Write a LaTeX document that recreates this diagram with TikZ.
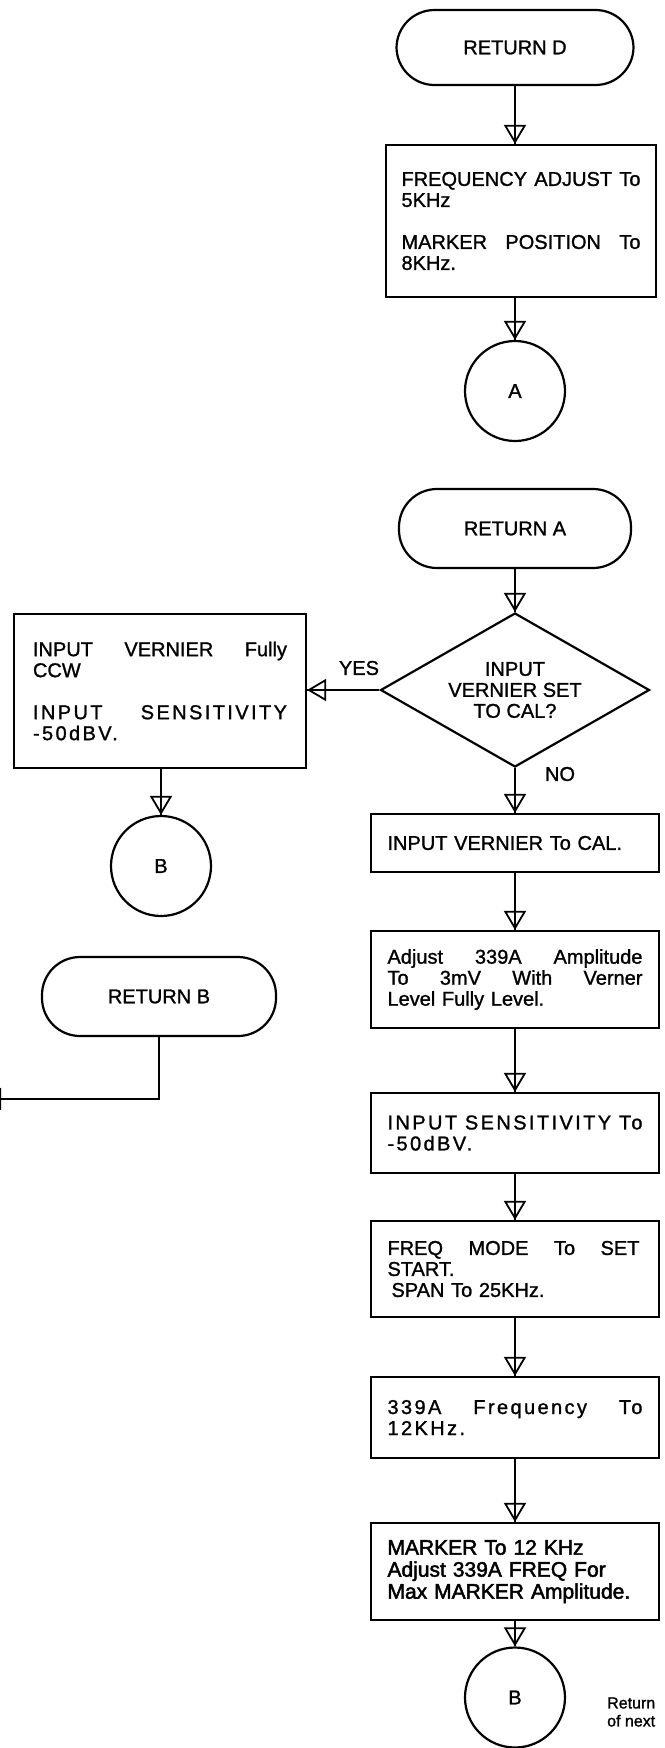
\documentclass[tikz,border=0pt]{standalone}
\usepackage{fontspec}
\setmainfont{Liberation Sans}[FakeBold=1.2]
\newfontfamily\medfont[FakeBold=2.2]{Liberation Sans}
\usetikzlibrary{shapes.geometric,arrows.meta}
% justified line: words separated by \hfill inside a box of given width
\newcommand\jl[2]{\makebox[#1][s]{#2}}
\newcommand\wide{\addfontfeature{LetterSpace=12}}
\tikzset{
  every node/.style={font=\fontsize{20}{21}\selectfont},
  term/.style={draw, line width=2.2pt, rectangle, rounded corners=38pt, inner sep=0pt},
  proc/.style={draw, line width=2.2pt, rectangle, align=left, inner ysep=0pt},
  conn/.style={draw, line width=2.2pt, circle, minimum size=100pt, inner sep=0pt},
  decide/.style={draw, line width=2.2pt, diamond, aspect=1.75, inner sep=0pt, align=center, minimum width=269pt, minimum height=154pt},
  flow/.style={line width=1.8pt, -{Triangle[open, length=19pt, width=22pt, line width=1.8pt]}, postaction={draw, -}},
  lbl/.style={inner sep=0pt},
}
\begin{document}
\begin{tikzpicture}[x=1pt,y=-1pt]
\fill[white] (0,0) rectangle (664,1748);
\useasboundingbox (0,0) rectangle (664,1748);

% right column, top
\node[term, minimum width=237pt, minimum height=75pt] (rd) at (515,47.5) {RETURN D};
\node[proc, text width=239pt, inner xsep=15.5pt, minimum height=152pt] (b1) at (521,221)
  {\jl{239pt}{FREQUENCY\hfill ADJUST\hfill To}\\5KHz\\[21pt]\jl{239pt}{MARKER\hfill POSITION\hfill To}\\8KHz.};
\node[conn] (a) at (515,391) {A};

\node[term, minimum width=232pt, minimum height=79pt] (ra) at (515,528.5) {RETURN A};
\node[decide] (d1) at (515,690) {INPUT\\VERNIER SET\\TO CAL?};
\node[lbl] (yes) at (359,668) {YES};
\node[lbl] (no) at (560,774) {NO};

% left column
\node[proc, text width=254pt, inner xsep=19pt, minimum height=154pt] (lb) at (160,691)
  {\jl{254pt}{INPUT\hfill VERNIER\hfill Fully}\\CCW\\[21pt]{\wide\jl{254pt}{INPUT\hfill SENSITIVITY}}\\{\wide -50dBV.}};
\node[conn] (bl) at (161,866) {B};
\node[term, minimum width=234pt, minimum height=79pt] (rb) at (159,996.5) {RETURN B};
\coordinate (rbout) at (-18,1099);

% right column, steps
\node[proc, text width=255pt, inner xsep=16.5pt, minimum height=58pt] (r1) at (515,843)
  {INPUT VERNIER To CAL.};
\node[proc, text width=255pt, inner xsep=16.5pt, minimum height=97pt] (r2) at (515,979.5)
  {\jl{255pt}{Adjust\hfill 339A\hfill Amplitude}\\\jl{255pt}{To\hfill 3mV\hfill With\hfill Verner}\\Level Fully Level.};
\node[proc, text width=255pt, inner xsep=16.5pt, minimum height=80pt] (r3) at (515,1133)
  {\wide\jl{255pt}{INPUT\hfill SENSITIVITY\hfill To}\\-50dBV.};
\node[proc, text width=255pt, inner xsep=16.5pt, minimum height=96pt] (r4) at (515,1269)
  {\jl{252pt}{FREQ\hfill MODE\hfill To\hfill SET}\\START.\\\hspace*{4pt}SPAN To 25KHz.};
\node[proc, text width=255pt, inner xsep=16.5pt, minimum height=81pt] (r5) at (515,1417.5)
  {\wide\jl{255pt}{339A\hfill Frequency\hfill To}\\12KHz.};
\node[proc, text width=255pt, inner xsep=16.5pt, minimum height=97pt, font=\medfont\fontsize{21}{22}\selectfont] (r6) at (515,1571.5)
  {MARKER To 12 KHz\\Adjust 339A FREQ For\\Max MARKER Amplitude.};
\node[conn] (bb) at (515,1697.5) {B};
\node[lbl, anchor=west, align=left, font=\fontsize{16}{18}\selectfont] (ret) at (607,1712) {Return\\of next};

% connectors
\draw[flow] (rd.south) -- (rd.south |- b1.north);
\draw[flow] (a.north |- b1.south) -- (a.north);
\draw[flow] (ra) -- (d1);
\draw[flow] (d1.west) -- (lb.east |- d1.west);
\draw[flow] (d1) -- (r1);
\draw[flow] (bl.north |- lb.south) -- (bl.north);
\draw[flow] (rb.south) |- (rbout);
\draw[flow] (r1) -- (r2);
\draw[flow] (r2) -- (r3);
\draw[flow] (r3) -- (r4);
\draw[flow] (r4) -- (r5);
\draw[flow] (r5) -- (r6);
\draw[flow] (r6) -- (bb);
\end{tikzpicture}
\end{document}
